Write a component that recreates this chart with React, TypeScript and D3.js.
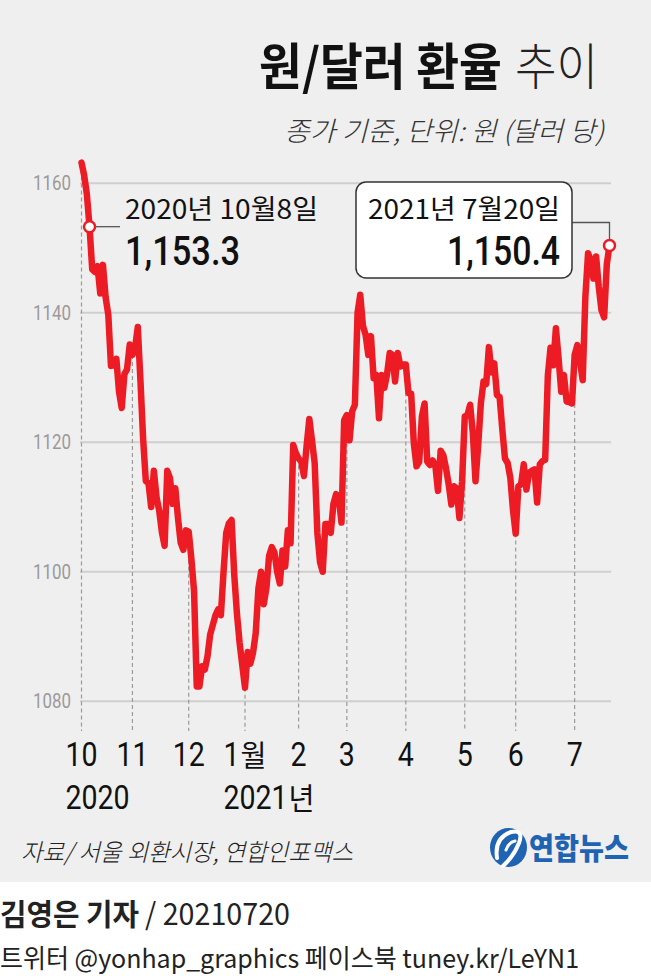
import React from 'react';
import * as d3 from 'd3';

// ---- data (daily closing rate, won per dollar) ----
const oct2020 = [1163.2, 1161.2, 1158.3, 1153.3, 1146.7, 1146.3, 1147.2, 1143.0, 1147.4, 1142.4, 1139.7, 1131.8, 1131.9, 1132.9, 1127.8, 1125.3, 1130.5, 1131.3, 1135.1];
const nov2020 = [1133.5, 1134.6, 1137.8, 1129.5, 1120.5, 1114.0, 1113.7, 1110.0, 1115.6, 1111.5, 1109.4, 1106.1, 1104.0, 1115.6, 1114.5, 1110.5, 1112.9, 1108.3, 1104.5, 1103.4, 1106.4];
const dec2020 = [1106.2, 1102.0, 1097.0, 1082.3, 1082.3, 1085.4, 1084.9, 1086.9, 1090.3, 1091.8, 1093.3, 1094.2, 1093.3, 1100.0, 1106.0, 1107.5, 1108.0, 1099.5, 1093.5, 1089.0, 1085.5];
const jan2021 = [1082.1, 1087.6, 1085.8, 1087.5, 1090.5, 1097.4, 1100.0, 1095.0, 1097.5, 1102.5, 1103.8, 1103.0, 1100.0, 1098.2, 1103.3, 1100.8, 1106.4, 1104.4, 1119.6, 1118.3];
const feb2021 = [1117.5, 1117.0, 1114.8, 1119.5, 1123.6, 1120.3, 1116.8, 1106.0, 1101.5, 1100.0, 1107.4, 1107.4, 1106.0, 1110.5, 1112.0, 1111.5, 1107.6, 1123.4];
const mar2021 = [1124.2, 1120.3, 1124.8, 1125.8, 1140.0, 1142.8, 1138.0, 1136.6, 1133.5, 1136.4, 1129.9, 1130.4, 1123.7, 1130.4, 1128.4, 1130.5, 1133.8, 1133.5, 1129.4, 1133.8, 1131.7, 1132.0];
const apr2021 = [1132.0, 1127.6, 1127.5, 1119.8, 1116.3, 1117.0, 1124.0, 1126.0, 1117.0, 1116.5, 1117.2, 1116.5, 1112.5, 1118.7, 1118.0, 1116.0, 1113.5, 1110.4, 1113.2, 1112.9, 1108.3, 1114.0];
const may2021 = [1124.0, 1124.2, 1125.8, 1121.5, 1114.0, 1119.5, 1126.0, 1129.4, 1129.0, 1134.7, 1130.8, 1132.2, 1127.3, 1127.0, 1122.0, 1117.5, 1116.8, 1114.5, 1109.5];
const jun2021 = [1105.9, 1113.2, 1113.5, 1116.6, 1112.7, 1115.3, 1115.6, 1115.8, 1110.7, 1116.6, 1117.1, 1117.3, 1130.4, 1134.6, 1131.9, 1137.6, 1133.0, 1127.8, 1130.4, 1126.3, 1126.2, 1126.0];
const jul2021 = [1133.5, 1135.0, 1132.5, 1129.6, 1142.5, 1149.2, 1148.2, 1145.3, 1148.7, 1144.0, 1140.4, 1139.3, 1147.5, 1150.4];

const months = [oct2020, nov2020, dec2020, jan2021, feb2021, mar2021, apr2021, may2021, jun2021, jul2021];
const monthLabels = ['10', '11', '12', '1', '2', '3', '4', '5', '6', '7'];
const monthSuffix = ['', '', '', '월', '', '', '', '', '', ''];
const yearLabels = ['2020', '', '', '2021', '', '', '', '', '', ''];
const yearSuffix = ['', '', '', '년', '', '', '', '', '', ''];
const yTicks = [1080, 1100, 1120, 1140, 1160];

const firstNote = { date: '2020년 10월8일', value: '1,153.3' };
const lastNote = { date: '2021년 7월20일', value: '1,150.4' };

const title = '원/달러 환율';
const titleLight = '추이';
const subtitle = '종가 기준, 단위: 원 (달러 당)';
const source = '자료/ 서울 외환시장, 연합인포맥스';
const byline = '김영은 기자';
const bylineDate = '/ 20210720';
const social = '트위터 @yonhap_graphics  페이스북 tuney.kr/LeYN1';

const FONT = "'Noto Sans CJK KR', 'Noto Sans', sans-serif";
const NUM = "Roboto, 'Noto Sans', sans-serif";
const RED = '#ed1c24';

export default function App() {
  const values: number[] = ([] as number[]).concat(...months);
  const n = values.length;
  const x = d3.scaleLinear().domain([0, n - 1]).range([81.5, 609.5]);
  const y = d3.scaleLinear().domain([1080, 1160]).range([701.3, 183.3]);
  const line = d3
    .line<number>()
    .x((_, i) => x(i))
    .y((d) => y(d));

  const starts: number[] = [];
  let acc = 0;
  months.forEach((m) => {
    starts.push(acc);
    acc += m.length;
  });

  const firstIdx = 3;
  const lastIdx = n - 1;
  const fx = x(firstIdx), fy = y(values[firstIdx]);
  const lx = x(lastIdx), ly = y(values[lastIdx]);

  const SX = 0.84; // condensed axis digits
  const DIG = 34 * 0.56 * SX; // approx digit advance
  const SUF = 26; // width of hangul suffix

  return (
    <div style={{ position: 'absolute', left: 0, top: 0 }}>
      <svg width={651} height={976} style={{ display: 'block' }} fontFamily={FONT}>
        <rect x={0} y={0} width={651} height={976} fill="#ffffff" />
        <rect x={0} y={0} width={651} height={882} fill="#efefef" />

        {/* title */}
        <text x={259} y={85} fontSize={50} fontWeight={700} textLength={243} lengthAdjust="spacingAndGlyphs" fill="#111">
          {title}
        </text>
        <text x={515} y={85} fontSize={50} fontWeight={300} textLength={83} lengthAdjust="spacingAndGlyphs" fill="#222">
          {titleLight}
        </text>
        <text x={604} y={141} textAnchor="end" fontSize={27} fontStyle="italic" fontWeight={300} textLength={320} lengthAdjust="spacingAndGlyphs" fill="#333">
          {subtitle}
        </text>

        {/* grid */}
        {yTicks.map((t) => (
          <g key={t}>
            <line x1={80} x2={611} y1={y(t)} y2={y(t)} stroke="#cfcfcf" strokeWidth={2} />
            <text x={71} y={y(t) + 7} textAnchor="end" fontSize={20} fill="#9a9a9a" fontFamily={NUM} textLength={38} lengthAdjust="spacingAndGlyphs">
              {t}
            </text>
          </g>
        ))}

        {/* month guides */}
        {starts.map((s, k) => (
          <line key={'d' + k} x1={x(s)} x2={x(s)} y1={y(values[s])} y2={731} stroke="#9a9a9a" strokeWidth={1.2} strokeDasharray="4,3" />
        ))}
        {starts.map((s, k) => {
          const w = monthLabels[k].length * DIG + (monthSuffix[k] ? SUF + 1 : 0);
          const left = x(s) - w / 2;
          return (
            <g key={'m' + k}>
              <text transform={`translate(${left},766) scale(${SX},1)`} fontSize={34} fill="#111" fontFamily={NUM}>
                {monthLabels[k]}
              </text>
              {monthSuffix[k] ? (
                <text x={left + monthLabels[k].length * DIG + 1} y={766} fontSize={30} fill="#111" textLength={SUF} lengthAdjust="spacingAndGlyphs">
                  {monthSuffix[k]}
                </text>
              ) : null}
            </g>
          );
        })}
        {starts.map((s, k) => {
          if (!yearLabels[k]) return null;
          const mw = monthLabels[k].length * DIG + (monthSuffix[k] ? SUF + 1 : 0);
          const left = x(s) - mw / 2;
          return (
            <g key={'y' + k}>
              <text transform={`translate(${left},809) scale(${SX},1)`} fontSize={34} fill="#111" fontFamily={NUM}>
                {yearLabels[k]}
              </text>
              {yearSuffix[k] ? (
                <text x={left + yearLabels[k].length * DIG + 1} y={809} fontSize={30} fill="#111" textLength={SUF} lengthAdjust="spacingAndGlyphs">
                  {yearSuffix[k]}
                </text>
              ) : null}
            </g>
          );
        })}

        {/* annotations */}
        <line x1={fx} x2={120} y1={fy} y2={fy} stroke="#555" strokeWidth={1.3} />
        <text x={125} y={219} fontSize={27} textLength={193} lengthAdjust="spacingAndGlyphs" fill="#111">
          {firstNote.date}
        </text>
        <text x={125} y={265} fontSize={40} fontWeight={500} fontFamily={NUM} textLength={115} lengthAdjust="spacingAndGlyphs" fill="#111">
          {firstNote.value}
        </text>

        <polyline points={`572,222.5 ${lx},222.5 ${lx},${ly}`} fill="none" stroke="#555" strokeWidth={1.3} />
        <rect x={356} y={182} width={216} height={96} rx={10} fill="#ffffff" stroke="#333" strokeWidth={1.5} />
        <text x={560} y={219} textAnchor="end" fontSize={27} textLength={192} lengthAdjust="spacingAndGlyphs" fill="#111">
          {lastNote.date}
        </text>
        <text x={560} y={265} textAnchor="end" fontSize={40} fontWeight={500} fontFamily={NUM} textLength={113} lengthAdjust="spacingAndGlyphs" fill="#111">
          {lastNote.value}
        </text>

        {/* series */}
        <path d={line(values) || ''} fill="none" stroke={RED} strokeWidth={6.5} strokeLinejoin="round" strokeLinecap="round" />
        <circle cx={fx} cy={fy} r={5.5} fill="#fff" stroke={RED} strokeWidth={2.5} />
        <circle cx={lx} cy={ly} r={5.5} fill="#fff" stroke={RED} strokeWidth={2.5} />

        {/* source + logo */}
        <text x={21} y={861} fontSize={24} fontStyle="italic" fontWeight={300} textLength={332} lengthAdjust="spacingAndGlyphs" fill="#222">
          {source}
        </text>
        <g>
          <ellipse cx={508.5} cy={847.5} rx={18.5} ry={19.5} fill="#1f63b3" />
          <path d="M 497 858 Q 494 838 511 832 Q 524 829 519 843 Q 514 856 503 866" fill="none" stroke="#ffffff" strokeWidth={4} strokeLinecap="round" />
          <path d="M 506 850 Q 509 842 515 841" fill="none" stroke="#ffffff" strokeWidth={3} strokeLinecap="round" />
          <text x={529} y={859} fontSize={30} fontWeight={900} textLength={100} lengthAdjust="spacingAndGlyphs" fill="#1f63b3">
            연합뉴스
          </text>
        </g>

        {/* footer */}
        <text x={0} y={925} fontSize={30} fontWeight={700} textLength={139} lengthAdjust="spacingAndGlyphs" fill="#222">
          {byline}
        </text>
        <text x={145} y={925} fontSize={30} fontWeight={400} textLength={145} lengthAdjust="spacingAndGlyphs" fill="#222">
          {bylineDate}
        </text>
        <text x={0} y={968} fontSize={26} textLength={579} lengthAdjust="spacingAndGlyphs" fill="#222">
          {social}
        </text>
      </svg>
    </div>
  );
}
